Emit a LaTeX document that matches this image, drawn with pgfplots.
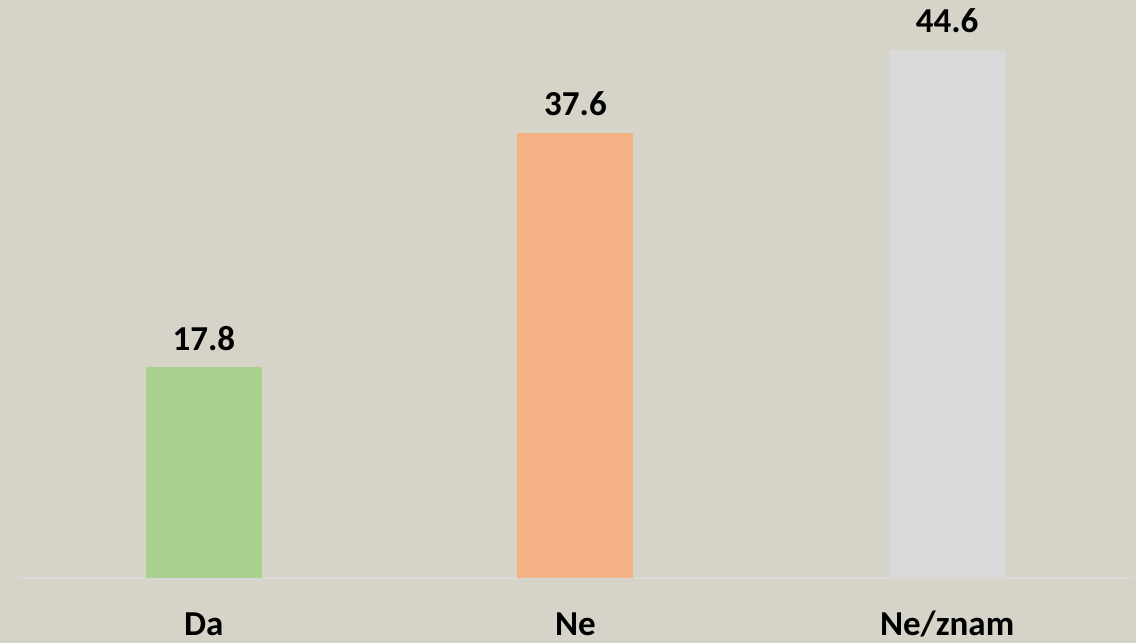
\documentclass[border=0pt]{standalone}
\usepackage{fontspec}
\setmainfont{Carlito}
\usepackage{pgfplots}
\pgfplotsset{compat=1.18}
\definecolor{bg}{RGB}{214,211,200}
\definecolor{cda}{RGB}{169,209,142}
\definecolor{cne}{RGB}{244,177,131}
\definecolor{cnz}{RGB}{217,217,217}
\definecolor{baseln}{RGB}{217,217,217}
\begin{document}
\begin{tikzpicture}[x=1pt,y=1pt]
\fill[bg] (0,0) rectangle (1136,643);
\begin{axis}[
  at={(18pt,65pt)}, anchor=south west,
  scale only axis, width=1115pt, height=578pt,
  xmin=-0.5, xmax=2.5, ymin=0, ymax=48.8,
  clip=false,
  axis y line=none,
  axis x line*=bottom,
  x axis line style={draw=baseln, line width=2pt, -},
  xtick={0,1,2}, xticklabels={Da,Ne,Ne/znam},
  major tick length=0pt,
  xticklabel style={font=\fontsize{35}{40}\selectfont\bfseries, anchor=base, yshift=-57pt},
  ytick=\empty,
  ybar, bar width=116pt,
  /pgf/number format/assume math mode=true,
  /pgf/number format/fixed, /pgf/number format/precision=1, /pgf/number format/fixed zerofill,
  nodes near coords,
  nodes near coords style={font=\fontsize{35}{40}\selectfont\bfseries, anchor=base, yshift=17pt, text=black},
]
\addplot[fill=cda, draw=none, bar shift=0pt] coordinates {(0,17.8)};
\addplot[fill=cne, draw=none, bar shift=0pt] coordinates {(1,37.6)};
\addplot[fill=cnz, draw=none, bar shift=0pt] coordinates {(2,44.6)};
\end{axis}
\pgfresetboundingbox
\useasboundingbox (0,0) rectangle (1136,643);
\end{tikzpicture}
\end{document}
